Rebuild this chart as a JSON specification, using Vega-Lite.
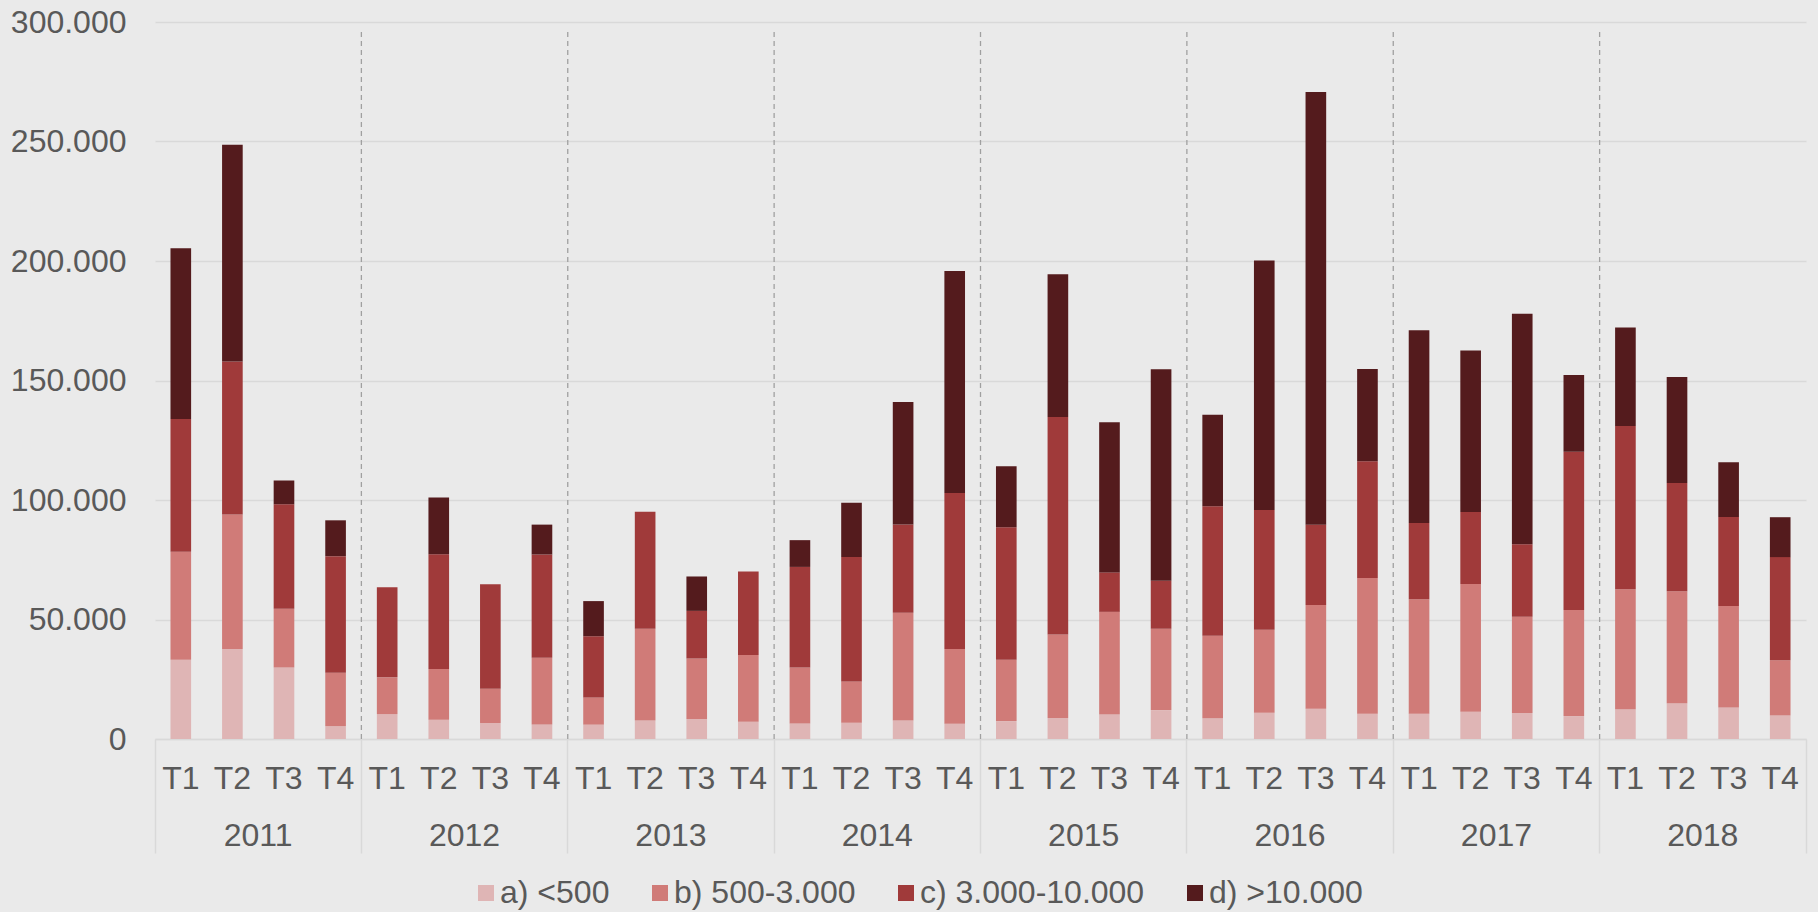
{
  "$schema": "https://vega.github.io/schema/vega-lite/v6.json",
  "width": 1651,
  "height": 717,
  "autosize": {"type": "none"},
  "padding": {"left": 155, "top": 22, "right": 12, "bottom": 173},
  "background": "#EAEAEA",
  "config": {
    "view": {"stroke": null},
    "font": "Liberation Sans",
    "axis": {"labelFont": "Liberation Sans", "labelFontSize": 32, "labelColor": "#595959", "title": null},
    "legend": {"labelFont": "Liberation Sans"}
  },
  "datasets": {
    "bars": [
      {"k": "2011 T1", "c": "a) <500", "v": 33200}, {"k": "2011 T1", "c": "b) 500-3.000", "v": 45100}, {"k": "2011 T1", "c": "c) 3.000-10.000", "v": 55600}, {"k": "2011 T1", "c": "d) >10.000", "v": 71400},
      {"k": "2011 T2", "c": "a) <500", "v": 37700}, {"k": "2011 T2", "c": "b) 500-3.000", "v": 56200}, {"k": "2011 T2", "c": "c) 3.000-10.000", "v": 64000}, {"k": "2011 T2", "c": "d) >10.000", "v": 90700},
      {"k": "2011 T3", "c": "a) <500", "v": 29900}, {"k": "2011 T3", "c": "b) 500-3.000", "v": 24600}, {"k": "2011 T3", "c": "c) 3.000-10.000", "v": 43700}, {"k": "2011 T3", "c": "d) >10.000", "v": 10000},
      {"k": "2011 T4", "c": "a) <500", "v": 5300}, {"k": "2011 T4", "c": "b) 500-3.000", "v": 22400}, {"k": "2011 T4", "c": "c) 3.000-10.000", "v": 48800}, {"k": "2011 T4", "c": "d) >10.000", "v": 15000},
      {"k": "2012 T1", "c": "a) <500", "v": 10400}, {"k": "2012 T1", "c": "b) 500-3.000", "v": 15400}, {"k": "2012 T1", "c": "c) 3.000-10.000", "v": 37700}, {"k": "2012 T1", "c": "d) >10.000", "v": 0},
      {"k": "2012 T2", "c": "a) <500", "v": 8100}, {"k": "2012 T2", "c": "b) 500-3.000", "v": 21200}, {"k": "2012 T2", "c": "c) 3.000-10.000", "v": 48000}, {"k": "2012 T2", "c": "d) >10.000", "v": 23700},
      {"k": "2012 T3", "c": "a) <500", "v": 6700}, {"k": "2012 T3", "c": "b) 500-3.000", "v": 14300}, {"k": "2012 T3", "c": "c) 3.000-10.000", "v": 43800}, {"k": "2012 T3", "c": "d) >10.000", "v": 0},
      {"k": "2012 T4", "c": "a) <500", "v": 6100}, {"k": "2012 T4", "c": "b) 500-3.000", "v": 27900}, {"k": "2012 T4", "c": "c) 3.000-10.000", "v": 43200}, {"k": "2012 T4", "c": "d) >10.000", "v": 12500},
      {"k": "2013 T1", "c": "a) <500", "v": 6000}, {"k": "2013 T1", "c": "b) 500-3.000", "v": 11400}, {"k": "2013 T1", "c": "c) 3.000-10.000", "v": 25600}, {"k": "2013 T1", "c": "d) >10.000", "v": 14700},
      {"k": "2013 T2", "c": "a) <500", "v": 7700}, {"k": "2013 T2", "c": "b) 500-3.000", "v": 38400}, {"k": "2013 T2", "c": "c) 3.000-10.000", "v": 49000}, {"k": "2013 T2", "c": "d) >10.000", "v": 0},
      {"k": "2013 T3", "c": "a) <500", "v": 8400}, {"k": "2013 T3", "c": "b) 500-3.000", "v": 25300}, {"k": "2013 T3", "c": "c) 3.000-10.000", "v": 19900}, {"k": "2013 T3", "c": "d) >10.000", "v": 14400},
      {"k": "2013 T4", "c": "a) <500", "v": 7200}, {"k": "2013 T4", "c": "b) 500-3.000", "v": 27900}, {"k": "2013 T4", "c": "c) 3.000-10.000", "v": 35000}, {"k": "2013 T4", "c": "d) >10.000", "v": 0},
      {"k": "2014 T1", "c": "a) <500", "v": 6500}, {"k": "2014 T1", "c": "b) 500-3.000", "v": 23400}, {"k": "2014 T1", "c": "c) 3.000-10.000", "v": 42100}, {"k": "2014 T1", "c": "d) >10.000", "v": 11200},
      {"k": "2014 T2", "c": "a) <500", "v": 6800}, {"k": "2014 T2", "c": "b) 500-3.000", "v": 17300}, {"k": "2014 T2", "c": "c) 3.000-10.000", "v": 52100}, {"k": "2014 T2", "c": "d) >10.000", "v": 22600},
      {"k": "2014 T3", "c": "a) <500", "v": 7700}, {"k": "2014 T3", "c": "b) 500-3.000", "v": 45100}, {"k": "2014 T3", "c": "c) 3.000-10.000", "v": 37000}, {"k": "2014 T3", "c": "d) >10.000", "v": 51200},
      {"k": "2014 T4", "c": "a) <500", "v": 6400}, {"k": "2014 T4", "c": "b) 500-3.000", "v": 31300}, {"k": "2014 T4", "c": "c) 3.000-10.000", "v": 65200}, {"k": "2014 T4", "c": "d) >10.000", "v": 92900},
      {"k": "2015 T1", "c": "a) <500", "v": 7500}, {"k": "2015 T1", "c": "b) 500-3.000", "v": 25700}, {"k": "2015 T1", "c": "c) 3.000-10.000", "v": 55400}, {"k": "2015 T1", "c": "d) >10.000", "v": 25500},
      {"k": "2015 T2", "c": "a) <500", "v": 8800}, {"k": "2015 T2", "c": "b) 500-3.000", "v": 34900}, {"k": "2015 T2", "c": "c) 3.000-10.000", "v": 91000}, {"k": "2015 T2", "c": "d) >10.000", "v": 59800},
      {"k": "2015 T3", "c": "a) <500", "v": 10200}, {"k": "2015 T3", "c": "b) 500-3.000", "v": 43000}, {"k": "2015 T3", "c": "c) 3.000-10.000", "v": 16500}, {"k": "2015 T3", "c": "d) >10.000", "v": 62800},
      {"k": "2015 T4", "c": "a) <500", "v": 12100}, {"k": "2015 T4", "c": "b) 500-3.000", "v": 34000}, {"k": "2015 T4", "c": "c) 3.000-10.000", "v": 20100}, {"k": "2015 T4", "c": "d) >10.000", "v": 88500},
      {"k": "2016 T1", "c": "a) <500", "v": 8700}, {"k": "2016 T1", "c": "b) 500-3.000", "v": 34500}, {"k": "2016 T1", "c": "c) 3.000-10.000", "v": 54200}, {"k": "2016 T1", "c": "d) >10.000", "v": 38300},
      {"k": "2016 T2", "c": "a) <500", "v": 11000}, {"k": "2016 T2", "c": "b) 500-3.000", "v": 34700}, {"k": "2016 T2", "c": "c) 3.000-10.000", "v": 50100}, {"k": "2016 T2", "c": "d) >10.000", "v": 104400},
      {"k": "2016 T3", "c": "a) <500", "v": 12700}, {"k": "2016 T3", "c": "b) 500-3.000", "v": 43400}, {"k": "2016 T3", "c": "c) 3.000-10.000", "v": 33500}, {"k": "2016 T3", "c": "d) >10.000", "v": 181100},
      {"k": "2016 T4", "c": "a) <500", "v": 10600}, {"k": "2016 T4", "c": "b) 500-3.000", "v": 56800}, {"k": "2016 T4", "c": "c) 3.000-10.000", "v": 48800}, {"k": "2016 T4", "c": "d) >10.000", "v": 38600},
      {"k": "2017 T1", "c": "a) <500", "v": 10600}, {"k": "2017 T1", "c": "b) 500-3.000", "v": 47900}, {"k": "2017 T1", "c": "c) 3.000-10.000", "v": 31900}, {"k": "2017 T1", "c": "d) >10.000", "v": 80600},
      {"k": "2017 T2", "c": "a) <500", "v": 11400}, {"k": "2017 T2", "c": "b) 500-3.000", "v": 53500}, {"k": "2017 T2", "c": "c) 3.000-10.000", "v": 30100}, {"k": "2017 T2", "c": "d) >10.000", "v": 67600},
      {"k": "2017 T3", "c": "a) <500", "v": 10900}, {"k": "2017 T3", "c": "b) 500-3.000", "v": 40200}, {"k": "2017 T3", "c": "c) 3.000-10.000", "v": 30400}, {"k": "2017 T3", "c": "d) >10.000", "v": 96400},
      {"k": "2017 T4", "c": "a) <500", "v": 9600}, {"k": "2017 T4", "c": "b) 500-3.000", "v": 44400}, {"k": "2017 T4", "c": "c) 3.000-10.000", "v": 66200}, {"k": "2017 T4", "c": "d) >10.000", "v": 32100},
      {"k": "2018 T1", "c": "a) <500", "v": 12500}, {"k": "2018 T1", "c": "b) 500-3.000", "v": 50200}, {"k": "2018 T1", "c": "c) 3.000-10.000", "v": 68300}, {"k": "2018 T1", "c": "d) >10.000", "v": 41200},
      {"k": "2018 T2", "c": "a) <500", "v": 15000}, {"k": "2018 T2", "c": "b) 500-3.000", "v": 46800}, {"k": "2018 T2", "c": "c) 3.000-10.000", "v": 45300}, {"k": "2018 T2", "c": "d) >10.000", "v": 44400},
      {"k": "2018 T3", "c": "a) <500", "v": 13200}, {"k": "2018 T3", "c": "b) 500-3.000", "v": 42500}, {"k": "2018 T3", "c": "c) 3.000-10.000", "v": 37200}, {"k": "2018 T3", "c": "d) >10.000", "v": 22900},
      {"k": "2018 T4", "c": "a) <500", "v": 9800}, {"k": "2018 T4", "c": "b) 500-3.000", "v": 23100}, {"k": "2018 T4", "c": "c) 3.000-10.000", "v": 43200}, {"k": "2018 T4", "c": "d) >10.000", "v": 16700}
    ],
    "seps": [
      {"k": "2011 T4"}, {"k": "2012 T4"}, {"k": "2013 T4"}, {"k": "2014 T4"}, {"k": "2015 T4"}, {"k": "2016 T4"}, {"k": "2017 T4"}
    ]
  },
  "layer": [
    {
      "data": {"name": "bars"},
      "mark": {"type": "bar", "width": {"band": 0.4}},
      "encoding": {
        "x": {
          "field": "k", "type": "ordinal",
          "scale": {"type": "band", "paddingInner": 0, "paddingOuter": 0},
          "axis": {
            "orient": "bottom",
            "labelExpr": "split(datum.value, ' ')[1]",
            "labelAngle": 0,
            "ticks": false,
            "grid": false,
            "domain": true,
            "domainColor": "#D9D9D9",
            "domainWidth": 1.5,
            "labelPadding": 24,
            "title": null
          }
        },
        "y": {
          "field": "v", "type": "quantitative", "aggregate": "sum", "stack": "zero",
          "scale": {"domain": [0, 300000], "nice": false},
          "axis": {
            "values": [0, 50000, 100000, 150000, 200000, 250000, 300000],
            "labelExpr": "replace(format(datum.value, ','), ',', '.')",
            "domain": false,
            "ticks": false,
            "grid": true,
            "gridColor": "#D9D9D9",
            "gridWidth": 1.5,
            "labelPadding": 29,
            "title": null
          }
        },
        "color": {
          "field": "c", "type": "nominal",
          "scale": {
            "domain": ["a) <500", "b) 500-3.000", "c) 3.000-10.000", "d) >10.000"],
            "range": ["#DFB5B5", "#D07B78", "#A03A3A", "#541B1D"]
          },
          "legend": {
            "title": null,
            "orient": "none",
            "legendX": 315,
            "legendY": 855,
            "direction": "horizontal",
            "symbolType": "square",
            "symbolSize": 256,
            "symbolStrokeWidth": 0,
            "labelFontSize": 32,
            "labelColor": "#595959",
            "labelOffset": -2,
            "labelLimit": 0,
            "columnPadding": 34
          }
        },
        "order": {"field": "c", "sort": "ascending"}
      }
    },
    {
      "data": {"name": "seps"},
      "mark": {"type": "rule", "color": "#A0A0A0", "strokeWidth": 1.3, "strokeDash": [5, 4]},
      "encoding": {
        "x": {
          "field": "k", "type": "ordinal", "bandPosition": 1,
          "scale": {"type": "band", "paddingInner": 0, "paddingOuter": 0},
          "axis": {
            "orient": "bottom",
            "values": ["2011 T1", "2011 T4", "2012 T4", "2013 T4", "2014 T4", "2015 T4", "2016 T4", "2017 T4", "2018 T4"],
            "bandPosition": 1,
            "tickExtra": true,
            "ticks": true,
            "tickSize": 114,
            "tickColor": "#D9D9D9",
            "tickWidth": 1.5,
            "tickOpacity": {"condition": {"test": "datum.value === '2011 T1'", "value": 0}, "value": 1},
            "labelExpr": "isString(datum.value) && datum.value !== '2011 T1' ? split(datum.value, ' ')[0] : ''",
            "labelAngle": 0,
            "labelOffset": -77.4,
            "labelPadding": -32.5,
            "domain": false,
            "grid": false,
            "title": null
          }
        },
        "y": {"datum": 0},
        "y2": {"datum": 296000}
      }
    }
  ],
  "resolve": {"axis": {"x": "independent"}}
}
